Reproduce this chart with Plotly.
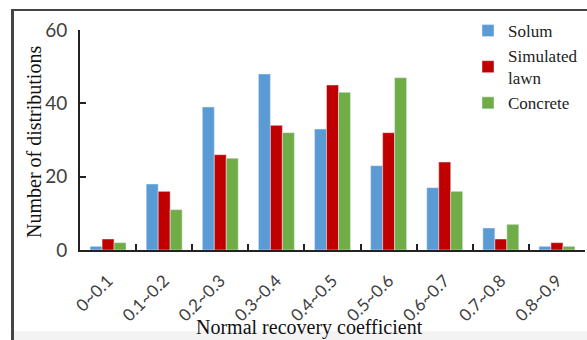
import plotly.graph_objects as go

categories = ["0~0.1", "0.1~0.2", "0.2~0.3", "0.3~0.4", "0.4~0.5", "0.5~0.6", "0.6~0.7", "0.7~0.8", "0.8~0.9"]
solum = [1, 18, 39, 48, 33, 23, 17, 6, 1]
simulated_lawn = [3, 16, 26, 34, 45, 32, 24, 3, 2]
concrete = [2, 11, 25, 32, 43, 47, 16, 7, 1]
y_ticks = [0, 20, 40, 60]

W, H = 587, 340
L, R, T, B = 80, 2, 30, 90
pw, ph = W - L - R, H - T - B


def px(x):
    return (x - L) / pw


def py(y):
    return (H - B - y) / ph


fig = go.Figure()
fig.add_trace(go.Bar(x=categories, y=solum, name="Solum", marker_color="#5B9BD5"))
fig.add_trace(go.Bar(x=categories, y=simulated_lawn, name="Simulated<br>lawn", marker_color="#C00000"))
fig.add_trace(go.Bar(x=categories, y=concrete, name="Concrete", marker_color="#70AD47"))

fig.update_layout(
    width=W, height=H,
    margin=dict(l=L, r=R, t=T, b=B, autoexpand=False),
    barmode="group", bargap=0.36, bargroupgap=0,
    plot_bgcolor="white", paper_bgcolor="white",
    showlegend=True,
    legend=dict(x=px(468), y=py(13), xanchor="left", yanchor="top",
                font=dict(family="Liberation Serif", size=17, color="#222"),
                bgcolor="rgba(0,0,0,0)", tracegroupgap=0, itemwidth=30),
    xaxis=dict(
        type="category", tickangle=-45, showline=True, linecolor="#222", linewidth=2,
        ticks="inside", tickson="boundaries", ticklen=6, tickcolor="#222", tickwidth=2,
        ticklabelstandoff=12,
        tickfont=dict(family="Lato", size=17, color="#404040"),
        range=[-0.5, 8.5], showgrid=False, automargin=False,
    ),
    yaxis=dict(
        range=[0, 60], tickvals=y_ticks, showline=True, linecolor="#222", linewidth=2,
        ticks="inside", ticklen=6, tickcolor="#222", tickwidth=2, ticklabelstandoff=7,
        tickfont=dict(family="Lato", size=19, color="#404040"),
        showgrid=False, zeroline=False, automargin=False,
    ),
)

fig.add_annotation(text="Number of distributions", xref="paper", yref="paper",
                   x=px(34), y=py(142), showarrow=False, xanchor="center", yanchor="middle",
                   textangle=-90,
                   font=dict(family="Liberation Serif", size=20, color="#111"))
fig.add_annotation(text="Normal recovery coefficient", xref="paper", yref="paper",
                   x=px(309), y=py(327), showarrow=False, xanchor="center", yanchor="middle",
                   font=dict(family="Liberation Serif", size=20, color="#111"))

fig.add_shape(type="rect", xref="paper", yref="paper",
              x0=px(14), x1=px(587), y0=py(340), y1=py(331),
              line=dict(width=0), fillcolor="#f3f3f3", layer="below")
fig.add_shape(type="rect", xref="paper", yref="paper",
              x0=px(12), x1=px(586), y0=py(9), y1=py(11),
              line=dict(width=0), fillcolor="#444", layer="below")
fig.add_shape(type="rect", xref="paper", yref="paper",
              x0=px(11), x1=px(13), y0=py(9), y1=py(340),
              line=dict(width=0), fillcolor="#444", layer="above")
# frame drawn as an empty annotation box as well
fig.add_annotation(text="", xref="paper", yref="paper", x=px(12), y=py(9),
                   xanchor="left", yanchor="top", showarrow=False,
                   width=600, height=360, bordercolor="#444", borderwidth=2, borderpad=0)

fig.write_html("out.html", config={"displayModeBar": False},
               post_script="document.body.style.margin='0';document.body.style.overflow='hidden';")
